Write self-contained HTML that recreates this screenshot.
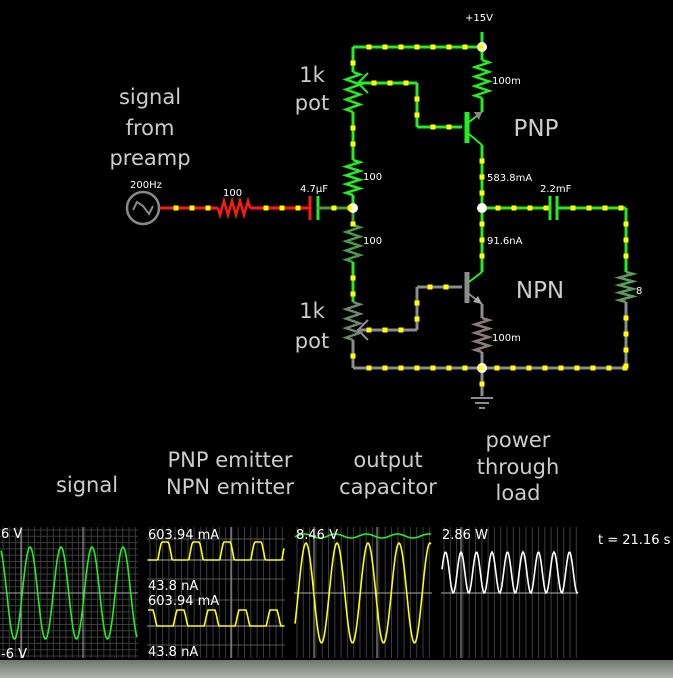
<!DOCTYPE html>
<html><head><meta charset="utf-8"><style>
html,body{margin:0;padding:0;background:#000;width:673px;height:678px;overflow:hidden}
svg{display:block}
text{font-family:"DejaVu Sans","Liberation Sans",sans-serif}
</style></head><body>
<svg id="s" width="673" height="678" viewBox="0 0 673 678" xmlns="http://www.w3.org/2000/svg">
<defs><linearGradient id="g" x1="0" y1="0" x2="0" y2="1"><stop offset="0" stop-color="#6e766e"/><stop offset="1" stop-color="#aeb4ac"/></linearGradient></defs>
<rect x="0" y="660" width="673" height="18" fill="url(#g)"/>
<g id="grid"></g>
<g id="wires" fill="none" stroke-width="3"></g>
<g id="dots" fill="#ffff00"></g>
<g fill="#ccc" font-size="21" text-anchor="middle">
<text x="312" y="82">1k</text><text x="312" y="110">pot</text>
<text x="312" y="318">1k</text><text x="312" y="348">pot</text>
<text x="150" y="104">signal</text><text x="150" y="135">from</text><text x="150" y="165">preamp</text>
<text x="536" y="136" font-size="23">PNP</text><text x="540" y="298" font-size="23">NPN</text>
<text x="87" y="492">signal</text>
<text x="230" y="467">PNP emitter</text><text x="230" y="494">NPN emitter</text>
<text x="388" y="467">output</text><text x="388" y="494">capacitor</text>
<text x="518" y="447">power</text><text x="518" y="474">through</text><text x="518" y="500">load</text>
</g>
<g fill="#fff" font-size="10">
<text x="465" y="21">+15V</text>
<text x="130" y="188">200Hz</text>
<text x="223" y="196">100</text>
<text x="300" y="192">4.7µF</text>
<text x="363" y="180">100</text>
<text x="363" y="244">100</text>
<text x="492" y="84">100m</text>
<text x="492" y="341">100m</text>
<text x="487" y="181">583.8mA</text>
<text x="487" y="244">91.6nA</text>
<text x="540" y="192">2.2mF</text>
<text x="636" y="294">8</text>
</g>
<g fill="#fff" font-size="13">
<text x="1" y="538">6 V</text><text x="1" y="658">-6 V</text>
<text x="148" y="539">603.94 mA</text><text x="148" y="590">43.8 nA</text>
<text x="148" y="605">603.94 mA</text><text x="148" y="656">43.8 nA</text>
<text x="296" y="539">8.46 V</text>
<text x="442" y="539">2.86 W</text>
<text x="598" y="544" font-size="13">t = 21.16 s</text>
</g>
</svg>
<script>
var NS="http://www.w3.org/2000/svg",s=document.getElementById('s');
function el(p,t,a){var e=document.createElementNS(NS,t);for(var k in a)e.setAttribute(k,a[k]);document.getElementById(p).appendChild(e);return e;}
var G='#22ee22',GR='#8c8c8c',R='#ff1a1a',DG='#4a9a4a';
function ln(pts,c,w){el('wires','polyline',{points:pts,stroke:c,'stroke-width':w||3});}
function dots(x1,y1,x2,y2){var L=Math.hypot(x2-x1,y2-y1),n=Math.floor(L/16);for(var i=1;i<=n;i++){var t=i*16/L;if(t>=1)break;el('dots','rect',{x:x1+(x2-x1)*t-2.5,y:y1+(y2-y1)*t-2.5,width:5,height:5});}}
function W(x1,y1,x2,y2,c){ln(x1+','+y1+' '+x2+','+y2,c);dots(x1,y1,x2,y2);}
function res(x,y1,y2,c,vert){var p=[],n=8,h=(y2-y1)/n;
 if(vert){p.push(x+','+y1);for(var i=0;i<n;i++){p.push((i%2?x-7:x+7)+','+(y1+h*(i+.5)));}p.push(x+','+y2);}
 else{p.push(y1+','+x);for(var i=0;i<n;i++){p.push((y1+h*(i+.5))+','+(i%2?x-7:x+7));}p.push(y2+','+x);}
 ln(p.join(' '),c,2.5);}
W(482,32,482,47,G);W(353,47,482,47,G);
W(353,47,353,72,G);res(353,72,112,G,1);W(353,112,353,160,G);res(353,160,195,G,1);W(353,195,353,208,G);
W(353,208,353,225,DG);res(353,225,262,DG,1);W(353,262,353,302,G);res(353,302,340,'#6a8a6a',1);W(353,340,353,368,GR);
ln('368,73 358,83 368,93',G,2);W(358,83,417,83,G);W(417,83,417,127,G);W(417,127,462,127,G);
ln('467,112 467,143',G,5);ln('469,122 482,112',G,2);ln('469,134 482,145',G,2);el('wires','polygon',{points:'482,112 474,112 479,120',fill:'#888',stroke:'none'});
W(482,47,482,60,G);res(482,60,98,G,1);W(482,98,482,112,G);W(482,145,482,208,G);
el('wires','circle',{cx:143,cy:208,r:16,stroke:'#888','stroke-width':2.5});
ln('133,210 137,202 143,206 149,214 153,206',"#888",2);
W(160,208,218,208,R);res(208,218,250,R,0);W(250,208,310,208,R);
ln('310,196 310,220',R,3);ln('318,196 318,220',G,3);W(318,208,353,208,DG);
W(482,208,550,208,G);ln('550,196 550,220',G,3);ln('557,196 557,220',G,3);W(557,208,626,208,G);W(626,208,626,272,G);res(626,272,302,'#5a9a5a',1);W(626,302,626,368,GR);
W(482,208,482,272,G);ln('467,272 467,303',GR,5);ln('469,282 482,272',G,2);ln('469,294 482,304',GR,2);el('wires','polygon',{points:'482,304 478,296 473,302',fill:'#aaa',stroke:'none'});
W(462,287,417,287,GR);W(417,287,417,330,GR);W(417,330,358,330,GR);ln('368,320 358,330 368,340',GR,2);
W(482,304,482,318,GR);res(482,318,352,'#8a7a7a',1);W(482,352,482,368,GR);
W(353,368,626,368,GR);W(482,368,482,396,GR);
ln('471,398 493,398',GR,2);ln('475,403 489,403',GR,2);ln('479,408 485,408',GR,2);
[[482,47],[353,208],[482,208],[482,368]].forEach(function(p){el('wires','circle',{cx:p[0],cy:p[1],r:5,fill:'#fff',stroke:'none'});});
function grid(x0,x1,y0,y1){for(var x=x0+3;x<x1;x+=6.3)el('grid','line',{x1:x,y1:y0,x2:x,y2:y1,stroke:'#3c3c3c'});}
function hg(x0,x1,ys,c){ys.forEach(function(y){el('grid','line',{x1:x0,y1:y,x2:x1,y2:y,stroke:c||'#3c3c3c'});});}
function vb(xs,y0,y1){xs.forEach(function(x){el('grid','line',{x1:x,y1:y0,x2:x,y2:y1,stroke:'#aaa'});});}
grid(0,138,527,658);var hs=[];for(var y=530;y<658;y+=6.3)hs.push(y);hg(0,138,hs);hg(0,138,[593],'#aaa');vb([21,83],527,658);
grid(147,285,527,658);hg(147,285,[539,560,579,600,626,645],'#555');hg(147,285,[560,626],'#aaa');vb([231],527,658);
grid(294,432,527,658);hg(294,432,[593],'#aaa');vb([314,377],527,658);
grid(441,578,527,658);hg(441,578,[593],'#aaa');vb([461],527,658);
function wave(c,f,x0,x1){var p=[];for(var x=x0;x<=x1;x+=1)p.push(x+','+f(x).toFixed(1));el('wires','polyline',{points:p.join(' '),stroke:c,'stroke-width':1.6});}
wave('#22ee22',function(x){return 593-46*Math.cos(2*Math.PI*(x-30)/31);},1,137);
wave('#ffff00',function(x){var v=Math.cos(2*Math.PI*(x-165)/31);return 560-18*Math.min(1,Math.max(0,v*1.6-0.2));},148,284);
wave('#ffff00',function(x){var v=-Math.cos(2*Math.PI*(x-165)/31);return 626-16*Math.min(1,Math.max(0,v*1.6-0.2));},148,284);
wave('#ffff00',function(x){return 593-50*Math.cos(2*Math.PI*(x-306)/31);},295,431);
wave('#22ee22',function(x){return 536+2*Math.cos(2*Math.PI*(x-320)/31);},295,431);
wave('#ffffff',function(x){var v=Math.cos(2*Math.PI*(x-306)/31);return 593-41*v*v;},442,578);
</script>
</body></html>
